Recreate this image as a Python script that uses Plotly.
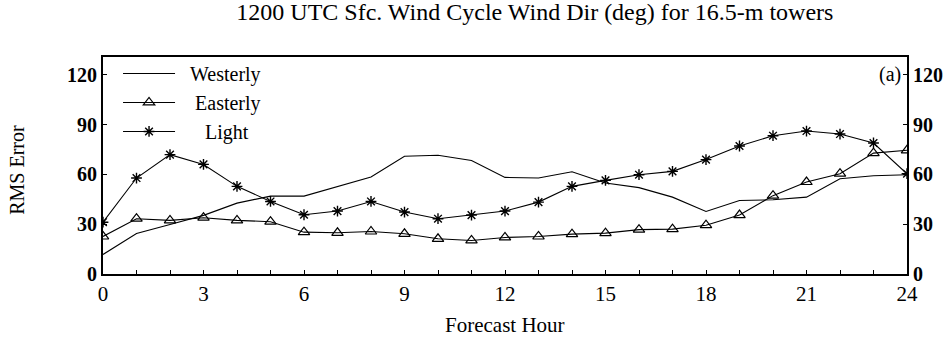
import plotly.graph_objects as go

hours = list(range(0, 25))
westerly = [11.8, 24.4, 29.8, 35.3, 42.7, 46.9, 46.9, 52.8, 58.4, 70.9, 71.5, 68.4, 58.2,
            57.8, 61.6, 54.8, 52.0, 46.3, 37.7, 44.3, 44.7, 46.3, 57.4, 59.2, 59.8]
easterly = [22.6, 33.3, 32.3, 33.9, 32.3, 31.5, 25.2, 24.8, 25.6, 24.2, 21.2, 20.2, 22.0,
            22.6, 24.0, 24.6, 26.7, 27.0, 29.4, 35.5, 47.2, 55.4, 60.4, 72.8, 74.5]
light = [31.2, 57.8, 71.9, 66.0, 52.8, 43.7, 35.7, 37.9, 43.7, 37.3, 33.3, 35.5, 37.9,
         43.3, 52.8, 56.4, 59.8, 61.8, 68.9, 77.1, 83.3, 86.1, 84.3, 78.9, 60.4]
y_ticks = [0, 30, 60, 90, 120]
x_tick_vals = list(range(0, 25))
x_tick_text = [str(h) if h % 3 == 0 else "" for h in x_tick_vals]

FONT = "Liberation Serif, Times New Roman, serif"
NB = "\u00a0"

fig = go.Figure()
fig.add_trace(go.Scatter(x=hours, y=westerly, mode="lines", name=NB * 2 + "Westerly",
                         line=dict(color="black", width=1.1)))
fig.add_trace(go.Scatter(x=hours, y=easterly, mode="lines+markers", name=NB * 3 + "Easterly",
                         line=dict(color="black", width=1.1),
                         marker=dict(symbol="triangle-up-open", size=10, color="black",
                                     line=dict(width=1.2))))
fig.add_trace(go.Scatter(x=hours, y=light, mode="lines+markers", name=NB * 5 + "Light",
                         line=dict(color="black", width=1.1),
                         marker=dict(symbol="asterisk-open", size=9, color="black",
                                     line=dict(width=1.4, color="black"))))
# invisible trace to host the right-hand axis
fig.add_trace(go.Scatter(x=hours, y=easterly, yaxis="y2", mode="lines", opacity=0,
                         showlegend=False, hoverinfo="skip"))

fig.update_layout(
    width=945, height=341,
    margin=dict(l=103, r=38, t=57, b=67),
    paper_bgcolor="white", plot_bgcolor="white",
    font=dict(family=FONT, size=20, color="black"),
    title=dict(text="1200 UTC Sfc. Wind Cycle Wind Dir (deg) for 16.5-m towers",
               x=0.566, xref="container", xanchor="center",
               y=0.965, yanchor="middle", font=dict(size=24)),
    showlegend=True,
    legend=dict(x=0.0187, y=1.014, xanchor="left", yanchor="top",
                bgcolor="rgba(0,0,0,0)", itemwidth=52,
                font=dict(size=20)),
    xaxis=dict(range=[0, 24], tickvals=x_tick_vals, ticktext=x_tick_text,
               ticks="inside", ticklen=4, tickwidth=1, tickcolor="black",
               showline=True, linewidth=2, linecolor="black", mirror=True,
               showgrid=False, zeroline=False, tickfont=dict(size=21),
               automargin=False),
    yaxis=dict(range=[0, 130.7], tickvals=y_ticks,
               ticks="inside", ticklen=4, tickwidth=1, tickcolor="black",
               showline=True, linewidth=2, linecolor="black",
               showgrid=False, zeroline=False,
               tickfont=dict(size=20, weight="bold"),
               automargin=False),
    yaxis2=dict(range=[0, 130.7], tickvals=y_ticks, overlaying="y", side="right",
                ticks="inside", ticklen=4, tickwidth=1, tickcolor="black",
                showline=True, linewidth=2, linecolor="black",
                showgrid=False, zeroline=False,
                tickfont=dict(size=20, weight="bold"),
                automargin=False),
    annotations=[
        dict(text="RMS Error", xref="paper", yref="paper", x=-0.107, y=0.48,
             textangle=-90, showarrow=False, xanchor="center", yanchor="middle",
             font=dict(size=20)),
        dict(text="Forecast Hour", xref="paper", yref="paper", x=0.5, y=-0.237,
             showarrow=False, xanchor="center", yanchor="middle", font=dict(size=21)),
        dict(text="(a)", xref="x", yref="y", x=24, y=120, xshift=-4,
             showarrow=False, xanchor="right", yanchor="middle", font=dict(size=20)),
    ],
)

fig.write_html("out.html", config={"displayModeBar": False},
               post_script="document.body.style.margin='0px';")
